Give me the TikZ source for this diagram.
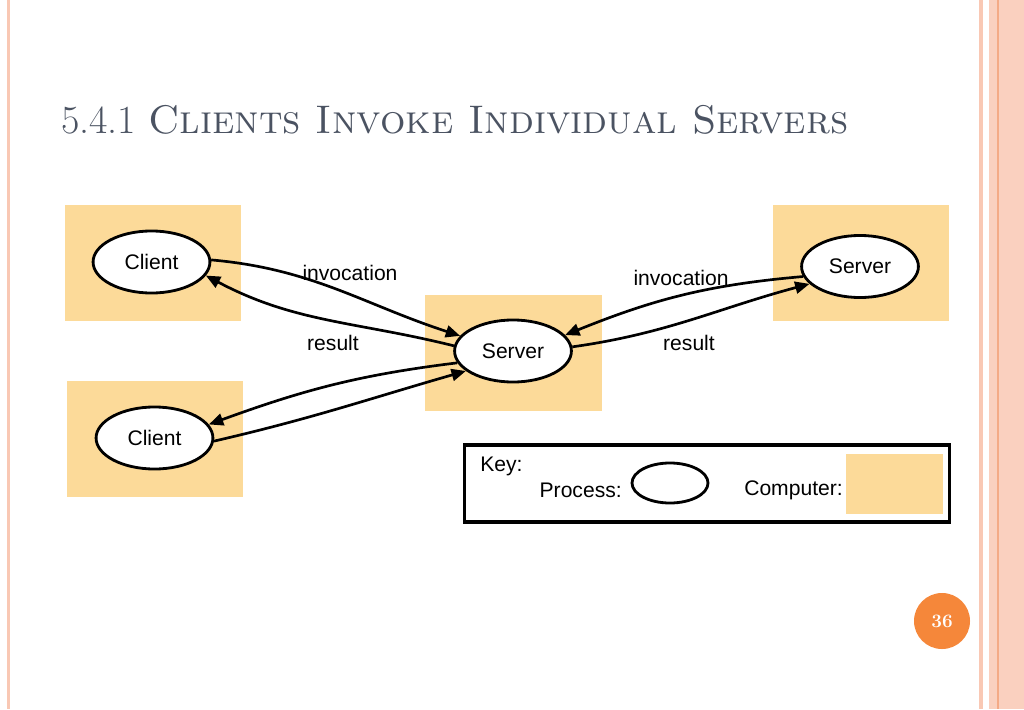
\documentclass[tikz,border=0pt]{standalone}
\usepackage{fontspec}
\usepackage{xcolor}
\usepackage{tikz}
\usetikzlibrary{arrows.meta,shapes.geometric}
\newfontfamily\arialfont{Liberation Sans}
\definecolor{pcfill}{HTML}{FCDA99}
\definecolor{titlegray}{HTML}{4B5362}
\definecolor{edgepink}{HTML}{F9C8B4}
\definecolor{edgedark}{HTML}{F4AA86}
\definecolor{pageorange}{HTML}{F5873A}
\tikzset{
  computer/.style={fill=pcfill,minimum width=4.4cm,minimum height=2.92cm,inner sep=0pt},
  process/.style={draw,ellipse,line width=2pt,fill=white,minimum width=2.92cm,minimum height=1.55cm,inner sep=0pt,font=\arialfont\fontsize{15}{17}\selectfont},
  msg/.style={line width=1.9pt,-{Triangle[length=0.36cm,width=0.3cm]}},
  lbl/.style={font=\arialfont\fontsize{15}{17}\selectfont,inner sep=0pt}
}
\begin{document}
\begin{tikzpicture}[x=0.025cm,y=-0.025cm]
    \useasboundingbox (0,0) rectangle (1024,709);
    \fill[edgepink] (7,0) rectangle (10,709);
    \fill[edgepink] (979,0) rectangle (983,709);
    \fill[edgepink!85] (989,0) rectangle (1024,709);
    \fill[edgedark] (997,0) rectangle (999,709);
    \node[anchor=base west,inner sep=0pt,text=titlegray,font=\fontsize{28.4}{34}\selectfont] (title) at (61,134) {5.4.1 \textsc{Clients Invoke Individual Servers}};
    \node[computer] (pcA) at (153,263) {};
    \node[computer] (pcB) at (155,439) {};
    \node[computer] (pcS) at (513.5,353) {};
    \node[computer] (pcR) at (861,263) {};
    \node[process] (clientA) at (151.5,262) {Client};
    \node[process] (clientB) at (154.5,438) {Client};
    \node[process] (server) at (513,351) {Server};
    \node[process] (serverR) at (860,266.5) {Server};
    \draw[msg] (clientA.2) to[out=-5,in=162] (server.164);
    \draw[msg] (server.175) to[out=166,in=-28] (clientA.-14);
    \draw[msg] (server.192) to[out=187,in=20] (clientB.14);
    \draw[msg] (clientB.-3) to[out=13,in=196] (server.203);
    \draw[msg] (serverR.190) to[out=185,in=22] (server.17);
    \draw[msg] (server.4) to[out=8,in=195] (serverR.199);
    \node[lbl] (invA) at (350,273) {invocation};
    \node[lbl] (resA) at (333,343) {result};
    \node[lbl] (invR) at (681,278) {invocation};
    \node[lbl] (resR) at (689,343) {result};
    \node[draw,line width=2.2pt,minimum width=12.1cm,minimum height=1.925cm,inner sep=0pt] (key) at (707,483.5) {};
    \node[lbl,anchor=west] (keytxt) at (480,466) {Key:};
    \node[lbl,anchor=east] (proctxt) at (622,490) {Process:};
    \node[process,minimum width=1.9cm,minimum height=1cm] (keyproc) at (670,483) {};
    \node[lbl,anchor=west] (comptxt) at (744,490) {Computer:};
    \node[computer,minimum width=2.43cm,minimum height=1.5cm] (keycomp) at (894.5,484) {};
    \node[circle,fill=pageorange,minimum size=1.4cm,inner sep=0pt,text=white,font=\bfseries\fontsize{13.5}{16}\selectfont] (page) at (942,621) {36};
\end{tikzpicture}
\end{document}
